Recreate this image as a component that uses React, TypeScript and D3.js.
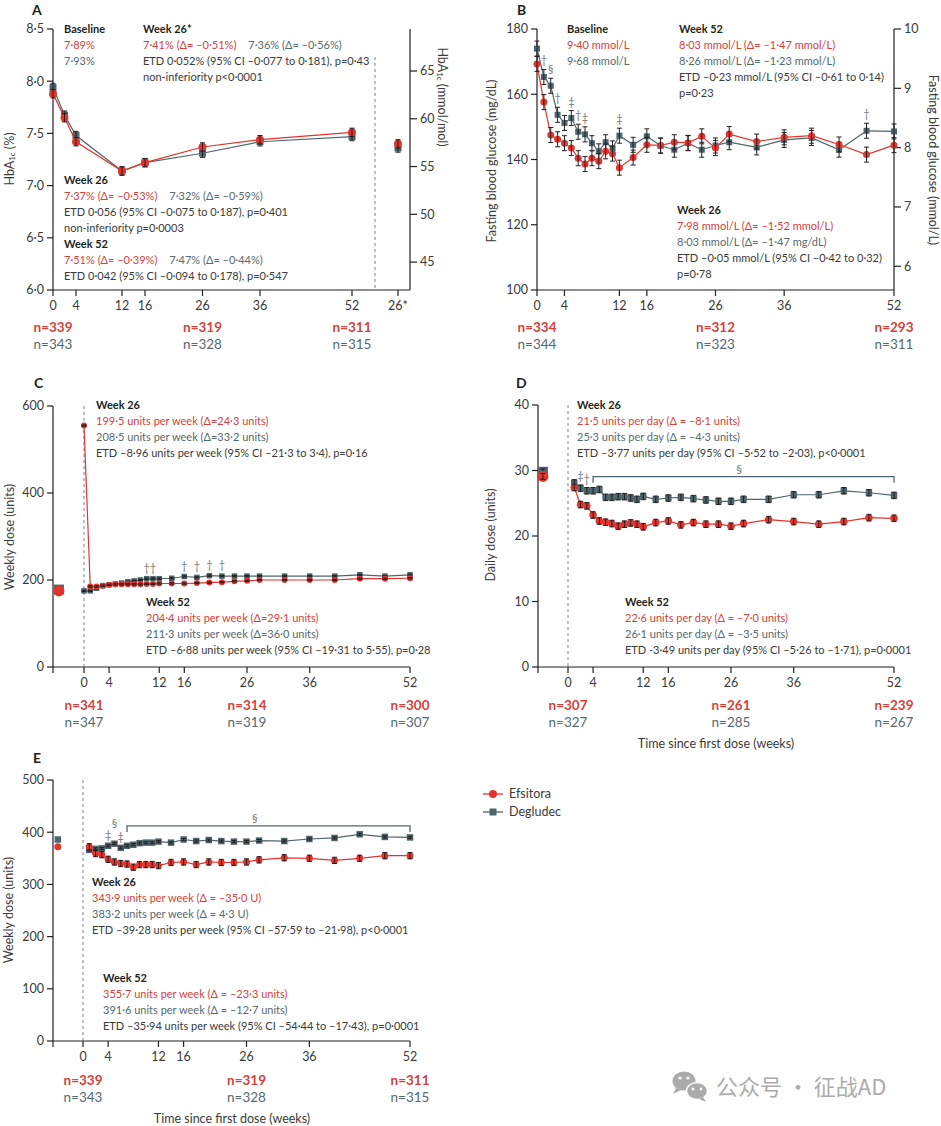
import React from 'react';
import * as d3 from 'd3';

const FONT = 'Lato, "Open Sans", "DejaVu Sans", sans-serif';
const RED = '#e2342d';
const GREY = '#4f656d';
const RED_T = '#d8403a';
const GREY_T = '#56696f';
const INK = '#231f20';
const TXT = '#3a3a3a';
const SYM = '#6f7b80';

// ---------- Panel A: HbA1c ----------
const weeksA = [0, 2, 4, 12, 16, 26, 36, 52];
const hbaEfs = [7.88, 7.65, 7.42, 7.14, 7.22, 7.37, 7.44, 7.51];
const hbaDeg = [7.94, 7.675, 7.48, 7.14, 7.22, 7.31, 7.42, 7.47];
const hbaStarEfs = 7.4;
const hbaStarDeg = 7.36;
const hbaErr = 0.04;
const xTicksA = [0, 4, 12, 16, 26, 36, 52];
const yTicksA = [6.0, 6.5, 7.0, 7.5, 8.0, 8.5];
const yTicksAmmol = [45, 50, 55, 60, 65];

// ---------- Panel B: fasting blood glucose ----------
const weeksB = [0, 1, 2, 3, 4, 5, 6, 7, 8, 9, 10, 11, 12, 14, 16, 18, 20, 22, 24, 26, 28, 32, 36, 40, 44, 48, 52];
const fbgEfs = [169.3, 157.6, 147.5, 146.2, 145.0, 143.5, 140.4, 138.6, 140.4, 139.5, 142.5, 141.8, 137.5, 140.6, 144.5, 144.3, 145.3, 145.1, 147.1, 143.5, 147.8, 145.5, 146.8, 147.3, 144.6, 141.5, 144.4];
const fbgDeg = [174.0, 165.3, 162.6, 153.7, 151.2, 152.7, 148.5, 147.7, 145.0, 142.5, 145.3, 143.4, 147.3, 144.5, 147.1, 144.2, 143.0, 145.0, 143.0, 144.3, 145.3, 143.7, 146.0, 146.6, 143.0, 148.8, 148.6];
const fbgErr = 2.3;
const symWeeksB = [1, 2, 3, 5, 6, 7, 12, 48];
const symB = ['†', '§', '†', '‡', '†', '‡', '‡', '†'];
const xTicksB = [0, 4, 12, 16, 26, 36, 52];
const yTicksB = [100, 120, 140, 160, 180];
const yTicksBmmol = [6, 7, 8, 9, 10];

// ---------- Panel C: weekly dose ----------
const weeksC = [0, 1, 2, 3, 4, 5, 6, 7, 8, 9, 10, 11, 12, 14, 16, 18, 20, 22, 24, 26, 28, 32, 36, 40, 44, 48, 52];
const doseEfsC = [555, 185, 185, 187, 189, 190, 190, 190, 190, 190, 191, 191, 192, 192, 192, 193, 194, 195, 197, 198, 200, 200, 200, 200, 203, 203, 204];
const doseDegC = [175, 175, 181, 187, 189, 191, 193, 196, 198, 200, 203, 203, 203, 204, 208, 206, 210, 209, 209, 209, 209, 209, 209, 209, 212, 209, 212];
const baseC = { efs: 175, deg: 178 };
const doseErrC = 1.5;
const symWeeksC = [10, 11, 16, 18, 20, 22];
const symC = ['†', '†', '†', '†', '†', '†'];
const yTicksC = [0, 200, 400, 600];

// ---------- Panel D: daily dose ----------
const weeksDE = [1, 2, 3, 4, 5, 6, 7, 8, 9, 10, 11, 12, 14, 16, 18, 20, 22, 24, 26, 28, 32, 36, 40, 44, 48, 52];
const dailyEfs = [27.4, 24.8, 24.6, 23.2, 22.3, 22.1, 21.9, 21.5, 21.8, 22.0, 21.8, 21.4, 22.05, 22.3, 21.7, 22.05, 21.8, 21.8, 21.5, 21.9, 22.5, 22.2, 21.8, 22.2, 22.8, 22.7];
const dailyDeg = [28.1, 27.3, 26.9, 26.9, 27.1, 25.9, 25.9, 26.0, 26.0, 25.8, 25.6, 26.05, 25.6, 25.8, 25.9, 25.7, 25.5, 25.3, 25.3, 25.6, 25.6, 26.3, 26.3, 26.9, 26.6, 26.2];
const baseD = { efs: 29.1, deg: 29.8 };
const dailyErr = 0.5;
const symWeeksD = [2, 3];
const symD = ['‡', '†'];
const bracketD = { from: 4, to: 52, level: 29.05, label: '§' };
const yTicksD = [0, 10, 20, 30, 40];

// ---------- Panel E: weekly dose ----------
const weeklyEfsE = [372, 359, 357, 348, 343, 340, 339, 333, 338, 338, 338, 336, 342, 343, 338, 343, 342, 342, 343, 347, 351, 350, 346, 350, 355, 355];
const weeklyDegE = [366, 368, 369, 374, 378, 370, 374, 376, 379, 380, 380, 382, 380, 386, 383, 385, 383, 382, 382, 384, 383, 387, 389, 396, 391, 390];
const baseE = { efs: 372, deg: 386 };
const errEfsE = 6;
const errDegE = 2;
const symWeeksE = [4, 5, 6];
const symE = ['‡', '§', '‡'];
const symLiftE = [0, 10, 0];
const bracketE = { from: 7, to: 52, level: 412, label: '§' };
const yTicksE = [0, 100, 200, 300, 400, 500];

const xTicksDose = [0, 4, 12, 16, 26, 36, 52];

// n labels (weeks 0, 26, 52)
const nWeeks = [0, 26, 52];
const nA = { efs: [339, 319, 311], deg: [343, 328, 315] };
const nB = { efs: [334, 312, 293], deg: [344, 323, 311] };
const nC = { efs: [341, 314, 300], deg: [347, 319, 307] };
const nD = { efs: [307, 261, 239], deg: [327, 285, 267] };
const nE = { efs: [339, 319, 311], deg: [343, 328, 315] };

// annotation text
type Seg = [string, string];
const txtA_base: Seg[][] = [[['h', 'Baseline']], [['r', '7·89%']], [['g', '7·93%']]];
const txtA_26s: Seg[][] = [
  [['h', 'Week 26*']],
  [['r', '7·41% (Δ= –0·51%)'], ['g', '7·36% (Δ= –0·56%)']],
  [['k', 'ETD 0·052% (95% CI –0·077 to 0·181), p=0·43']],
  [['k', 'non-inferiority p<0·0001']],
];
const txtA_26: Seg[][] = [
  [['h', 'Week 26']],
  [['r', '7·37% (Δ= –0·53%)'], ['g', '7·32% (Δ= –0·59%)']],
  [['k', 'ETD 0·056 (95% CI –0·075 to 0·187), p=0·401']],
  [['k', 'non-inferiority p=0·0003']],
  [['h', 'Week 52']],
  [['r', '7·51% (Δ= –0·39%)'], ['g', '7·47% (Δ= –0·44%)']],
  [['k', 'ETD 0·042 (95% CI –0·094 to 0·178), p=0·547']],
];
const txtB_base: Seg[][] = [[['h', 'Baseline']], [['r', '9·40 mmol/L']], [['g', '9·68 mmol/L']]];
const txtB_52: Seg[][] = [
  [['h', 'Week 52']],
  [['r', '8·03 mmol/L (Δ= –1·47 mmol/L)']],
  [['g', '8·26 mmol/L (Δ= –1·23 mmol/L)']],
  [['k', 'ETD –0·23 mmol/L (95% CI –0·61 to 0·14)']],
  [['k', 'p=0·23']],
];
const txtB_26: Seg[][] = [
  [['h', 'Week 26']],
  [['r', '7·98 mmol/L (Δ= –1·52 mmol/L)']],
  [['g', '8·03 mmol/L (Δ= –1·47 mg/dL)']],
  [['k', 'ETD –0·05 mmol/L (95% CI –0·42 to 0·32)']],
  [['k', 'p=0·78']],
];
const txtC_26: Seg[][] = [
  [['h', 'Week 26']],
  [['r', '199·5 units per week (Δ=24·3 units)']],
  [['g', '208·5 units per week (Δ=33·2 units)']],
  [['k', 'ETD –8·96 units per week (95% CI –21·3 to 3·4), p=0·16']],
];
const txtC_52: Seg[][] = [
  [['h', 'Week 52']],
  [['r', '204·4 units per week (Δ=29·1 units)']],
  [['g', '211·3 units per week (Δ=36·0 units)']],
  [['k', 'ETD –6·88 units per week (95% CI –19·31 to 5·55), p=0·28']],
];
const txtD_26: Seg[][] = [
  [['h', 'Week 26']],
  [['r', '21·5 units per day (Δ = –8·1 units)']],
  [['g', '25·3 units per day (Δ = –4·3 units)']],
  [['k', 'ETD –3·77 units per day (95% CI –5·52 to –2·03), p<0·0001']],
];
const txtD_52: Seg[][] = [
  [['h', 'Week 52']],
  [['r', '22·6 units per day (Δ = –7·0 units)']],
  [['g', '26·1 units per day (Δ = –3·5 units)']],
  [['k', 'ETD -3·49 units per day (95% CI –5·26 to –1·71), p=0·0001']],
];
const txtE_26: Seg[][] = [
  [['h', 'Week 26']],
  [['r', '343·9 units per week (Δ = –35·0 U)']],
  [['g', '383·2 units per week (Δ = 4·3 U)']],
  [['k', 'ETD –39·28 units per week (95% CI –57·59 to –21·98), p<0·0001']],
];
const txtE_52: Seg[][] = [
  [['h', 'Week 52']],
  [['r', '355·7 units per week (Δ = –23·3 units)']],
  [['g', '391·6 units per week (Δ = –12·7 units)']],
  [['k', 'ETD –35·94 units per week (95% CI –54·44 to –17·43), p=0·0001']],
];

const legendItems = ['Efsitora', 'Degludec'];
const xAxisTitle = 'Time since first dose (weeks)';

// ---------- helpers ----------
const dotFmt = (f: string) => (v: number) => d3.format(f)(v).replace('.', '·');
const colorOf = (k: string) => (k === 'r' ? RED_T : k === 'g' ? GREY_T : k === 'h' ? INK : TXT);

function Block({ x, y, lines, lh = 16 }: { x: number; y: number; lines: Seg[][]; lh?: number }) {
  return (
    <g fontFamily={FONT} fontSize={11}>
      {lines.map((ln, i) => (
        <text key={i} x={x} y={y + i * lh}>
          {ln.map(([k, t], j) => (
            <tspan key={j} dx={j > 0 ? 12 : 0} fill={colorOf(k)} fontWeight={k === 'h' ? 700 : 400}>
              {t}
            </tspan>
          ))}
        </text>
      ))}
    </g>
  );
}

function Marker({ cx, cy, shape, size, color }: any) {
  return shape === 'circle' ? (
    <circle cx={cx} cy={cy} r={size / 2} fill={color} />
  ) : (
    <rect x={cx - size / 2} y={cy - size / 2} width={size} height={size} fill={color} />
  );
}

function ErrBar({ cx, y1, y2, cap = 2.5 }: any) {
  return (
    <g stroke={INK} strokeWidth={1}>
      <line x1={cx} x2={cx} y1={y1} y2={y2} />
      <line x1={cx - cap} x2={cx + cap} y1={y1} y2={y1} />
      <line x1={cx - cap} x2={cx + cap} y1={y2} y2={y2} />
    </g>
  );
}

function Series({ weeks, values, x, y, color, shape, size, err, lw = 1.2 }: any) {
  const line = d3
    .line<number>()
    .x((_, i) => x(weeks[i]))
    .y((v) => y(v));
  return (
    <g>
      <path d={line(values) || ''} fill="none" stroke={color} strokeWidth={lw} />
      {values.map((v: number, i: number) => (
        <Marker key={'m' + i} cx={x(weeks[i])} cy={y(v)} shape={shape} size={size} color={color} />
      ))}
      {err > 0 &&
        values.map((v: number, i: number) => (
          <ErrBar key={'e' + i} cx={x(weeks[i])} y1={y(v + err)} y2={y(v - err)} />
        ))}
    </g>
  );
}

function LeftAxis({ x0, scale, ticks, fmt }: any) {
  const [r0, r1] = scale.range();
  return (
    <g fontFamily={FONT} fontSize={12.5} fill={TXT}>
      <line x1={x0} x2={x0} y1={r1} y2={r0} stroke={INK} strokeWidth={1.2} />
      {ticks.map((t: number) => (
        <g key={t}>
          <line x1={x0 - 6} x2={x0} y1={scale(t)} y2={scale(t)} stroke={INK} strokeWidth={1.2} />
          <text x={x0 - 9} y={scale(t)} dy="0.35em" textAnchor="end">
            {fmt(t)}
          </text>
        </g>
      ))}
    </g>
  );
}

function RightAxis({ x0, ticks, fmt, top, bottom, pos }: any) {
  return (
    <g fontFamily={FONT} fontSize={12.5} fill={TXT}>
      <line x1={x0} x2={x0} y1={top} y2={bottom} stroke={INK} strokeWidth={1.2} />
      {ticks.map((t: number) => (
        <g key={t}>
          <line x1={x0} x2={x0 + 7} y1={pos(t)} y2={pos(t)} stroke={INK} strokeWidth={1.2} />
          <text x={x0 + 10} y={pos(t)} dy="0.35em">
            {fmt(t)}
          </text>
        </g>
      ))}
    </g>
  );
}

function BottomAxis({ y0, x1, x2, scale, ticks, extra }: any) {
  return (
    <g fontFamily={FONT} fontSize={12.5} fill={TXT}>
      <line x1={x1} x2={x2} y1={y0} y2={y0} stroke={INK} strokeWidth={1.2} />
      {ticks.map((t: number) => (
        <g key={t}>
          <line x1={scale(t)} x2={scale(t)} y1={y0} y2={y0 + 6} stroke={INK} strokeWidth={1.2} />
          <text x={scale(t)} y={y0 + 20} textAnchor="middle">
            {t}
          </text>
        </g>
      ))}
      {extra}
    </g>
  );
}

function NLabels({ x, y, n }: any) {
  return (
    <g fontFamily={FONT} fontSize={13.5} textAnchor="middle">
      {nWeeks.map((w, i) => (
        <g key={w}>
          <text x={x(w)} y={y} fill={RED_T} fontWeight={700}>{'n=' + n.efs[i]}</text>
          <text x={x(w)} y={y + 17} fill={GREY_T}>{'n=' + n.deg[i]}</text>
        </g>
      ))}
    </g>
  );
}

function Symbols({ weeks, syms, x, y, base, errPx, lift }: any) {
  return (
    <g fontFamily={FONT} fontSize={11} fill={SYM} textAnchor="middle">
      {weeks.map((w: number, i: number) => {
        const bi = base.weeks.indexOf(w);
        const yy = y(base.values[bi]) - errPx - 5 - (lift ? lift[i] : 0);
        return (
          <text key={i} x={x(w)} y={yy}>
            {syms[i]}
          </text>
        );
      })}
    </g>
  );
}

function Bracket({ b, x, y }: any) {
  const yy = y(b.level);
  const mid = x(27.3);
  return (
    <g>
      <path d={`M${x(b.from)},${yy + 6}V${yy}H${x(b.to)}V${yy + 6}`} fill="none" stroke={GREY} strokeWidth={1.3} />
      <text x={mid} y={yy - 4} textAnchor="middle" fontFamily={FONT} fontSize={12} fill={SYM}>
        {b.label}
      </text>
    </g>
  );
}

function VLabel({ x, y, children, rot = -90 }: any) {
  return (
    <text transform={`translate(${x},${y}) rotate(${rot})`} textAnchor="middle" dominantBaseline="central" fontFamily={FONT} fontSize={12.5} fill={TXT}>
      {children}
    </text>
  );
}

function PanelTag({ x, y, t }: any) {
  return (
    <text x={x} y={y} fontFamily={FONT} fontSize={14} fontWeight={700} fill={INK}>
      {t}
    </text>
  );
}

function Dashed({ x, y1, y2 }: any) {
  return <line x1={x} x2={x} y1={y1} y2={y2} stroke="#808080" strokeWidth={1} strokeDasharray="3,3" />;
}

export default function App() {
  const xA = d3.scaleLinear().domain([0, 52]).range([53, 352]);
  const yA = d3.scaleLinear().domain([6, 8.5]).range([290, 29]);
  const mmolToPct = (m: number) => m / 10.929 + 2.15;

  const xB = d3.scaleLinear().domain([0, 52]).range([537, 894]);
  const yB = d3.scaleLinear().domain([100, 180]).range([290, 29]);
  const yBr = d3.scaleLinear().domain([5.6, 10]).range([290, 29]);

  const xC = d3.scaleLinear().domain([0, 52]).range([84, 410]);
  const yC = d3.scaleLinear().domain([0, 600]).range([667, 406]);

  const xD = d3.scaleLinear().domain([0, 52]).range([568, 894]);
  const yD = d3.scaleLinear().domain([0, 40]).range([667, 405]);

  const xE = d3.scaleLinear().domain([0, 52]).range([83, 410]);
  const yE = d3.scaleLinear().domain([0, 500]).range([1041, 780]);

  const f1 = dotFmt('.1f');
  const f0 = dotFmt('d');

  return (
    <svg width={941} height={1126} style={{ position: 'absolute', left: 0, top: 0, background: '#fff' }}>
      <rect width={941} height={1126} fill="#fff" />

      {/* ===== Panel A ===== */}
      <PanelTag x={32} y={15} t="A" />
      <LeftAxis x0={53} scale={yA} ticks={yTicksA} fmt={f1} />
      <RightAxis x0={410} top={29} bottom={290} ticks={yTicksAmmol} fmt={f0} pos={(m: number) => yA(mmolToPct(m))} />
      <BottomAxis
        y0={290}
        x1={53}
        x2={410}
        scale={xA}
        ticks={xTicksA}
        extra={
          <g>
            <line x1={xA(60)} x2={xA(60)} y1={290} y2={296} stroke={INK} strokeWidth={1.2} />
            <text x={xA(60)} y={310} textAnchor="middle">26*</text>
          </g>
        }
      />
      <Dashed x={xA(56)} y1={57} y2={290} />
      <Series weeks={weeksA} values={hbaDeg} x={xA} y={yA} color={GREY} shape="square" size={7} err={hbaErr} />
      <Series weeks={weeksA} values={hbaEfs} x={xA} y={yA} color={RED} shape="circle" size={8} err={hbaErr} />
      <Series weeks={[60]} values={[hbaStarDeg]} x={xA} y={yA} color={GREY} shape="square" size={7} err={hbaErr} />
      <Series weeks={[60]} values={[hbaStarEfs]} x={xA} y={yA} color={RED} shape="circle" size={8} err={hbaErr} />
      <Block x={64} y={33} lines={txtA_base} />
      <Block x={143} y={33} lines={txtA_26s} />
      <Block x={64} y={184} lines={txtA_26} />
      <VLabel x={9} y={159}>
        <tspan>HbA</tspan>
        <tspan fontSize={8} dy={3}>1c</tspan>
        <tspan dy={-3}> (%)</tspan>
      </VLabel>
      <VLabel x={443} y={97} rot={90}>
        <tspan>HbA</tspan>
        <tspan fontSize={8} dy={3}>1c</tspan>
        <tspan dy={-3}> (mmol/mol)</tspan>
      </VLabel>
      <NLabels x={xA} y={332} n={nA} />

      {/* ===== Panel B ===== */}
      <PanelTag x={517} y={15} t="B" />
      <LeftAxis x0={537} scale={yB} ticks={yTicksB} fmt={f0} />
      <RightAxis x0={894} top={29} bottom={290} ticks={yTicksBmmol} fmt={f0} pos={(m: number) => yBr(m)} />
      <BottomAxis y0={290} x1={537} x2={894} scale={xB} ticks={xTicksB} />
      <Series weeks={weeksB} values={fbgDeg} x={xB} y={yB} color={GREY} shape="square" size={6} err={fbgErr} />
      <Series weeks={weeksB} values={fbgEfs} x={xB} y={yB} color={RED} shape="circle" size={7} err={fbgErr} />
      <Symbols weeks={symWeeksB} syms={symB} x={xB} y={yB} base={{ weeks: weeksB, values: fbgDeg }} errPx={yB(100) - yB(100 + fbgErr)} />
      <Block x={567} y={33} lines={txtB_base} />
      <Block x={679} y={33} lines={txtB_52} />
      <Block x={677} y={214} lines={txtB_26} />
      <VLabel x={491} y={161}>Fasting blood glucose (mg/dL)</VLabel>
      <VLabel x={933} y={160} rot={90}>Fasting blood glucose (mmol/L)</VLabel>
      <NLabels x={xB} y={332} n={nB} />

      {/* ===== Panel C ===== */}
      <PanelTag x={34} y={388} t="C" />
      <LeftAxis x0={53} scale={yC} ticks={yTicksC} fmt={f0} />
      <BottomAxis
        y0={667}
        x1={53}
        x2={410}
        scale={xC}
        ticks={xTicksDose}
        extra={<line x1={53} x2={53} y1={667} y2={673} stroke={INK} strokeWidth={1.2} />}
      />
      <Dashed x={xC(0)} y1={406} y2={667} />
      <Series weeks={[-4]} values={[baseC.deg]} x={xC} y={yC} color={GREY} shape="square" size={10} err={0} />
      <Series weeks={[-4]} values={[baseC.efs]} x={xC} y={yC} color={RED} shape="circle" size={11} err={0} />
      <Series weeks={weeksC} values={doseDegC} x={xC} y={yC} color={GREY} shape="square" size={5.5} err={doseErrC} />
      <Series weeks={weeksC} values={doseEfsC} x={xC} y={yC} color={RED} shape="circle" size={6} err={doseErrC} />
      <Symbols weeks={symWeeksC} syms={symC} x={xC} y={yC} base={{ weeks: weeksC, values: doseDegC }} errPx={2} />
      <Block x={96} y={409} lines={txtC_26} />
      <Block x={146} y={606} lines={txtC_52} />
      <VLabel x={9} y={537}>Weekly dose (units)</VLabel>
      <NLabels x={xC} y={710} n={nC} />

      {/* ===== Panel D ===== */}
      <PanelTag x={516} y={388} t="D" />
      <LeftAxis x0={538} scale={yD} ticks={yTicksD} fmt={f0} />
      <BottomAxis
        y0={667}
        x1={538}
        x2={894}
        scale={xD}
        ticks={xTicksDose}
        extra={<line x1={538} x2={538} y1={667} y2={673} stroke={INK} strokeWidth={1.2} />}
      />
      <Dashed x={xD(0)} y1={405} y2={667} />
      <Series weeks={[-4]} values={[baseD.deg]} x={xD} y={yD} color={GREY} shape="square" size={10} err={0.45} />
      <Series weeks={[-4]} values={[baseD.efs]} x={xD} y={yD} color={RED} shape="circle" size={11} err={0.45} />
      <Series weeks={weeksDE} values={dailyDeg} x={xD} y={yD} color={GREY} shape="square" size={6.5} err={dailyErr} />
      <Series weeks={weeksDE} values={dailyEfs} x={xD} y={yD} color={RED} shape="circle" size={7.5} err={dailyErr} />
      <Symbols weeks={symWeeksD} syms={symD} x={xD} y={yD} base={{ weeks: weeksDE, values: dailyDeg }} errPx={yD(0) - yD(dailyErr)} />
      <Bracket b={bracketD} x={xD} y={yD} />
      <Block x={577} y={409} lines={txtD_26} />
      <Block x={625} y={606} lines={txtD_52} />
      <VLabel x={490} y={535}>Daily dose (units)</VLabel>
      <NLabels x={xD} y={710} n={nD} />
      <text x={716} y={748} textAnchor="middle" fontFamily={FONT} fontSize={12.5} fill={TXT}>
        {xAxisTitle}
      </text>

      {/* ===== Panel E ===== */}
      <PanelTag x={33} y={763} t="E" />
      <LeftAxis x0={53} scale={yE} ticks={yTicksE} fmt={f0} />
      <BottomAxis
        y0={1041}
        x1={53}
        x2={410}
        scale={xE}
        ticks={xTicksDose}
        extra={<line x1={53} x2={53} y1={1041} y2={1047} stroke={INK} strokeWidth={1.2} />}
      />
      <Dashed x={xE(0)} y1={780} y2={1041} />
      <Series weeks={[-4]} values={[baseE.deg]} x={xE} y={yE} color={GREY} shape="square" size={6.5} err={0} />
      <Series weeks={[-4]} values={[baseE.efs]} x={xE} y={yE} color={RED} shape="circle" size={7} err={0} />
      <Series weeks={weeksDE} values={weeklyDegE} x={xE} y={yE} color={GREY} shape="square" size={6.5} err={errDegE} />
      <Series weeks={weeksDE} values={weeklyEfsE} x={xE} y={yE} color={RED} shape="circle" size={7} err={errEfsE} />
      <Symbols weeks={symWeeksE} syms={symE} lift={symLiftE} x={xE} y={yE} base={{ weeks: weeksDE, values: weeklyDegE }} errPx={2} />
      <Bracket b={bracketE} x={xE} y={yE} />
      <Block x={92} y={886} lines={txtE_26} />
      <Block x={103} y={982} lines={txtE_52} />
      <VLabel x={8} y={910}>Weekly dose (units)</VLabel>
      <NLabels x={xE} y={1085} n={nE} />
      <text x={232} y={1123} textAnchor="middle" fontFamily={FONT} fontSize={12.5} fill={TXT}>
        {xAxisTitle}
      </text>

      {/* ===== Legend ===== */}
      <g fontFamily={FONT} fontSize={12.5} fill={TXT}>
        <line x1={483} x2={503} y1={794} y2={794} stroke={RED} strokeWidth={1.3} />
        <circle cx={493} cy={794} r={4} fill={RED} />
        <text x={509} y={798}>{legendItems[0]}</text>
        <line x1={483} x2={503} y1={812} y2={812} stroke={GREY} strokeWidth={1.3} />
        <rect x={489.5} y={808.5} width={7} height={7} fill={GREY} />
        <text x={509} y={816}>{legendItems[1]}</text>
      </g>

      {/* ===== Watermark ===== */}
      <g fill="#ababab">
        <ellipse cx={684} cy={1081} rx={11.5} ry={9.5} />
        <path d="M676,1088 L673,1094 L681,1090 Z" />
        <ellipse cx={697} cy={1091} rx={10.5} ry={8.5} stroke="#fff" strokeWidth={1.5} />
        <path d="M703,1097 L706,1102 L699,1099 Z" />
        <circle cx={680} cy={1078} r={1.6} fill="#fff" />
        <circle cx={688} cy={1078} r={1.6} fill="#fff" />
        <circle cx={693} cy={1089} r={1.4} fill="#fff" />
        <circle cx={701} cy={1089} r={1.4} fill="#fff" />
        <text x={716} y={1095} fontFamily='"Noto Sans CJK SC", sans-serif' fontSize={22}>
          公众号 · 征战AD
        </text>
      </g>
    </svg>
  );
}
